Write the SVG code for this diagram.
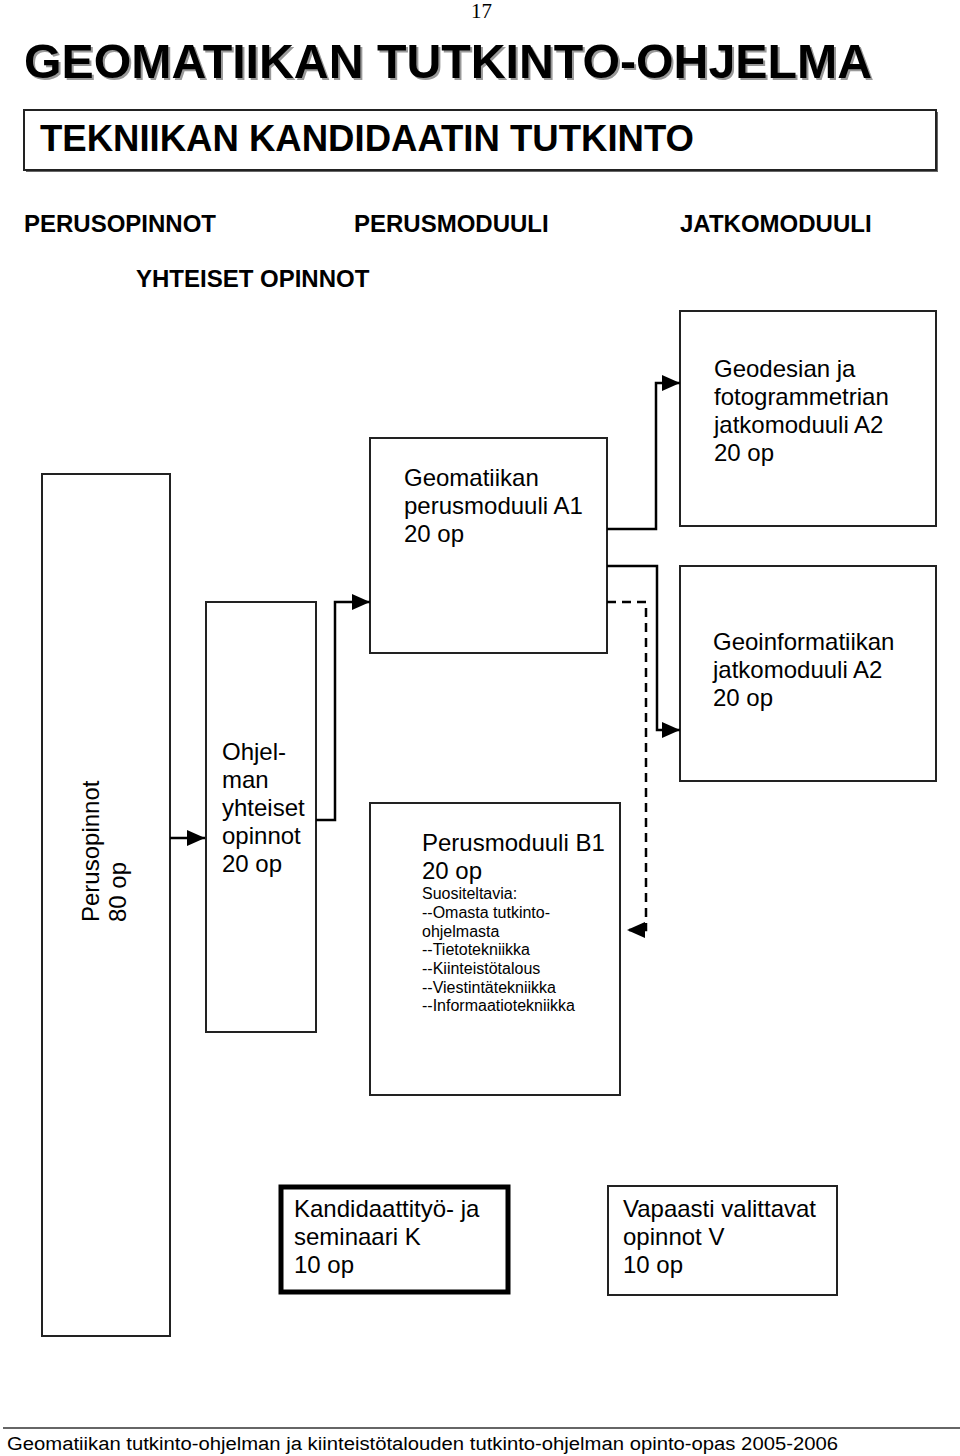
<svg xmlns="http://www.w3.org/2000/svg" width="960" height="1456" viewBox="0 0 960 1456">
<style>
.box{fill:#fff;stroke:#222;stroke-width:2}
.thick{fill:#fff;stroke:#000;stroke-width:5}
.t{font-family:"Liberation Sans",Arial,sans-serif;font-size:24px;fill:#000}
.s{font-family:"Liberation Sans",Arial,sans-serif;font-size:16px;fill:#000}
.h{font-family:"Liberation Sans",Arial,sans-serif;font-weight:bold;fill:#000}
.c{fill:none;stroke:#000;stroke-width:2.5}
.d{fill:none;stroke:#000;stroke-width:2.5;stroke-dasharray:9 6}
</style>
<defs>
<marker id="ah" markerWidth="18" markerHeight="16" refX="18" refY="8" orient="auto" markerUnits="userSpaceOnUse">
<path d="M0,0 L18,8 L0,16 Z" fill="#000"/>
</marker>
</defs>
<rect width="960" height="1456" fill="#fff"/>
<g id="page-number"><text x="471" y="18" font-family="Liberation Serif,serif" font-size="21">17</text></g>
<g id="title">
<text x="26" y="80" class="h" font-size="48" style="fill:#999" textLength="848" lengthAdjust="spacingAndGlyphs">GEOMATIIKAN TUTKINTO-OHJELMA</text>
<text x="24" y="78" class="h" font-size="48" textLength="848" lengthAdjust="spacingAndGlyphs">GEOMATIIKAN TUTKINTO-OHJELMA</text>
</g>
<g id="degree">
<rect x="26" y="112" width="912" height="60" fill="#666"/>
<rect x="24" y="110" width="912" height="60" class="box"/>
<text x="40" y="151" class="h" font-size="36" textLength="654" lengthAdjust="spacingAndGlyphs">TEKNIIKAN KANDIDAATIN TUTKINTO</text>
</g>
<g id="headers">
<text x="24" y="232" class="h" font-size="24">PERUSOPINNOT</text>
<text x="354" y="232" class="h" font-size="24">PERUSMODUULI</text>
<text x="680" y="232" class="h" font-size="24">JATKOMODUULI</text>
<text x="136" y="287" class="h" font-size="24">YHTEISET OPINNOT</text>
</g>
<g id="perusopinnot">
<rect x="42" y="474" width="128" height="862" class="box"/>
<text class="t" transform="translate(99,922) rotate(-90)">Perusopinnot</text>
<text class="t" transform="translate(126,922) rotate(-90)">80 op</text>
</g>
<g id="ohjelman">
<rect x="206" y="602" width="110" height="430" class="box"/>
<text class="t" x="222" y="760">Ohjel-</text>
<text class="t" x="222" y="788">man</text>
<text class="t" x="222" y="816">yhteiset</text>
<text class="t" x="222" y="844">opinnot</text>
<text class="t" x="222" y="872">20 op</text>
</g>
<g id="a1">
<rect x="370" y="438" width="237" height="215" class="box"/>
<text class="t" x="404" y="486">Geomatiikan</text>
<text class="t" x="404" y="514">perusmoduuli A1</text>
<text class="t" x="404" y="542">20 op</text>
</g>
<g id="a2-geodesia">
<rect x="680" y="311" width="256" height="215" class="box"/>
<text class="t" x="714" y="377">Geodesian ja</text>
<text class="t" x="714" y="405">fotogrammetrian</text>
<text class="t" x="714" y="433">jatkomoduuli A2</text>
<text class="t" x="714" y="461">20 op</text>
</g>
<g id="a2-geoinformatiikka">
<rect x="680" y="566" width="256" height="215" class="box"/>
<text class="t" x="713" y="650">Geoinformatiikan</text>
<text class="t" x="713" y="678">jatkomoduuli A2</text>
<text class="t" x="713" y="706">20 op</text>
</g>
<g id="b1">
<rect x="370" y="803" width="250" height="292" class="box"/>
<text class="t" x="422" y="851">Perusmoduuli B1</text>
<text class="t" x="422" y="879">20 op</text>
<text class="s" x="422" y="899">Suositeltavia:</text>
<text class="s" x="422" y="918">--Omasta tutkinto-</text>
<text class="s" x="422" y="937">ohjelmasta</text>
<text class="s" x="422" y="955">--Tietotekniikka</text>
<text class="s" x="422" y="974">--Kiinteistötalous</text>
<text class="s" x="422" y="993">--Viestintätekniikka</text>
<text class="s" x="422" y="1011">--Informaatiotekniikka</text>
</g>
<g id="kandidaattityo">
<rect x="281" y="1187" width="227" height="105" class="thick"/>
<text class="t" x="294" y="1217">Kandidaattityö- ja</text>
<text class="t" x="294" y="1245">seminaari K</text>
<text class="t" x="294" y="1273">10 op</text>
</g>
<g id="vapaasti">
<rect x="608" y="1186" width="229" height="109" class="box"/>
<text class="t" x="623" y="1217">Vapaasti valittavat</text>
<text class="t" x="623" y="1245">opinnot V</text>
<text class="t" x="623" y="1273">10 op</text>
</g>
<g id="connectors">
<path class="c" d="M170,838 L205,838" marker-end="url(#ah)"/>
<path class="c" d="M316,820 L335,820 L335,602 L370,602" marker-end="url(#ah)"/>
<path class="c" d="M607,529 L656,529 L656,383 L680,383" marker-end="url(#ah)"/>
<path class="c" d="M607,566 L657,566 L657,730 L680,730" marker-end="url(#ah)"/>
<path class="d" d="M607,602 L646,602 L646,930 L627,930" marker-end="url(#ah)"/>
</g>
<g id="footer">
<line x1="3" y1="1428" x2="960" y2="1428" stroke="#333" stroke-width="1.5"/>
<text x="7" y="1450" font-family="Liberation Sans,Arial,sans-serif" font-size="18" textLength="831" lengthAdjust="spacingAndGlyphs">Geomatiikan tutkinto-ohjelman ja kiinteistötalouden tutkinto-ohjelman opinto-opas 2005-2006</text>
</g>
</svg>
